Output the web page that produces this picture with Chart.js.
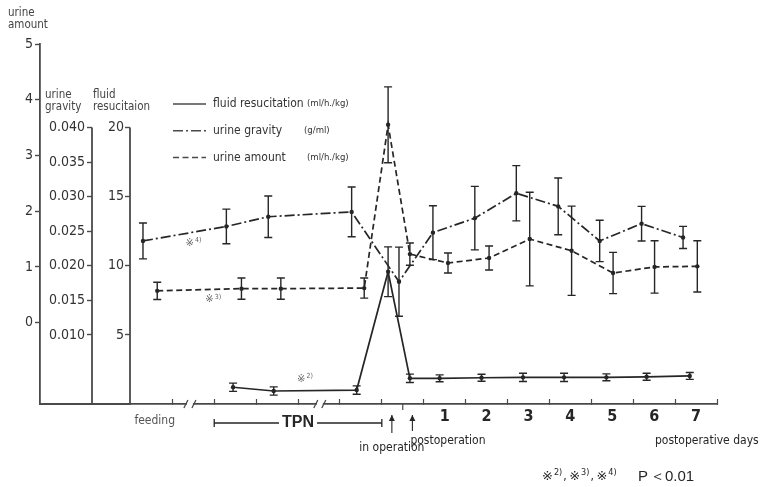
<!DOCTYPE html>
<html>
<head>
<meta charset="utf-8">
<script src="https://cdn.jsdelivr.net/npm/chart.js@4.4.1/dist/chart.umd.min.js"></script>
<style>
  html, body { margin: 0; padding: 0; background: #fff; }
</style>
</head>
<body>
<canvas id="chart" width="769" height="487"></canvas>
<script>
// values (x = position in days, 0 = operation)
const dayLabels = [1, 2, 3, 4, 5, 6, 7];
const xTickMarks = [-5.5, -4.5, -3.5, -2.5, -1.5, -0.5, 0.5, 1.5, 2.5, 3.5, 4.5, 5.5, 6.5, 7.5];
const amountTicks = [0, 1, 2, 3, 4, 5];
const gravityTicks = [0.010, 0.015, 0.020, 0.025, 0.030, 0.035, 0.040];
const fluidTicks = [5, 10, 15, 20];

// fluid resucitation (ml/h./kg)
const fluidX = [-4.05, -3.08, -1.10, -0.35, 0.17, 0.88, 1.88, 2.87, 3.85, 4.86, 5.82, 6.85];
const fluidMean = [1.21, 0.94, 1.01, 9.57, 1.86, 1.86, 1.90, 1.93, 1.93, 1.93, 1.97, 2.03];
const fluidSD = [0.3, 0.3, 0.3, 1.8, 0.3, 0.25, 0.25, 0.3, 0.3, 0.25, 0.25, 0.25];

// urine gravity (g/ml)
const gravityX = [-6.20, -4.21, -3.21, -1.22, -0.09, 0.72, 1.72, 2.71, 3.71, 4.70, 5.70, 6.69];
const gravityMean = [0.0236, 0.0257, 0.0271, 0.0278, 0.0177, 0.0248, 0.0269, 0.0305, 0.0286, 0.0236, 0.0261, 0.0241];
const gravitySD = [0.0026, 0.0025, 0.0030, 0.0036, 0.0050, 0.0039, 0.0046, 0.0040, 0.0041, 0.0030, 0.0025, 0.0016];

// urine amount (ml/h./kg)
const amountX = [-5.86, -3.85, -2.91, -0.92, -0.35, 0.17, 1.08, 2.06, 3.03, 4.03, 5.02, 6.01, 7.03];
const amountMean = [0.57, 0.61, 0.61, 0.62, 3.55, 1.23, 1.07, 1.16, 1.50, 1.29, 0.89, 1.00, 1.01];
const amountSD = [0.155, 0.19, 0.19, 0.18, 0.68, 0.2, 0.18, 0.215, 0.84, 0.8, 0.37, 0.47, 0.46];

const ink = "#262626";
const grey = "#4a4a4a";
const narrow = "'DejaVu Sans Condensed', 'Liberation Sans Narrow', sans-serif";
const DASH_DOT = [10, 3, 2, 3];
const DASHED = [6, 3.5];

function toPoints(xs, ys) {
  return xs.map((x, i) => ({ x: x, y: ys[i] }));
}

function series(label, xs, ys, sd, axisId, dash) {
  return {
    label: label,
    data: toPoints(xs, ys),
    sd: sd,
    yAxisID: axisId,
    borderColor: ink,
    borderWidth: 1.7,
    borderDash: dash,
    pointRadius: 2.2,
    pointBackgroundColor: ink,
    pointBorderWidth: 0,
    tension: 0,
  };
}

//Error bars from each dataset's sd array
const errorBars = {
  id: "errorBars",
  afterDatasetsDraw(chart) {
    const ctx = chart.ctx;
    chart.data.datasets.forEach((ds, i) => {
      const meta = chart.getDatasetMeta(i);
      const ys = chart.scales[ds.yAxisID];
      ctx.save();
      ctx.lineWidth = 1.4;
      ctx.strokeStyle = ink;
      ds.data.forEach((p, j) => {
        const px = meta.data[j].x;
        const top = ys.getPixelForValue(p.y + ds.sd[j]);
        const bot = ys.getPixelForValue(p.y - ds.sd[j]);
        ctx.beginPath();
        ctx.moveTo(px, top); ctx.lineTo(px, bot);
        ctx.moveTo(px - 4, top); ctx.lineTo(px + 4, top);
        ctx.moveTo(px - 4, bot); ctx.lineTo(px + 4, bot);
        ctx.stroke();
      });
      ctx.restore();
    });
  },
};

function mark(ctx, x, y, num, size) {
  ctx.font = size + "px 'DejaVu Sans', sans-serif";
  ctx.textAlign = "left";
  ctx.textBaseline = "middle";
  ctx.fillText("\u203B", x, y);
  const w = ctx.measureText("\u203B").width;
  ctx.font = Math.round(size * 0.7) + "px 'DejaVu Sans Condensed', sans-serif";
  ctx.fillText(num + ")", x + w + 1, y - size * 0.3);
  return x + w + 1 + ctx.measureText(num + ")").width;
}

//Everything around the plot: broken axis, phases, legend, titles
const decor = {
  id: "decor",
  afterDraw(chart) {
    const ctx = chart.ctx;
    const xs = chart.scales.x;
    const yA = chart.scales.yAmount;
    const yG = chart.scales.yGravity;
    const yF = chart.scales.yFluid;
    const base = xs.top;
    ctx.save();

    // x baseline continues under the inner axes
    ctx.strokeStyle = grey;
    ctx.lineWidth = 1.8;
    ctx.beginPath();
    ctx.moveTo(yA.right, base); ctx.lineTo(chart.chartArea.left + 1, base);
    ctx.stroke();

    // inner axis lines end at their top tick
    [[yG, gravityTicks], [yF, fluidTicks]].forEach(([s, t]) => {
      ctx.beginPath();
      ctx.moveTo(s.right, s.getPixelForValue(s.min));
      ctx.lineTo(s.right, s.getPixelForValue(t[t.length - 1]));
      ctx.stroke();
    });

    // axis breaks
    [-5.08, -1.98].forEach((v) => {
      const bx = xs.getPixelForValue(v);
      ctx.fillStyle = "#fff";
      ctx.fillRect(bx - 3, base - 2, 6, 4);
      ctx.lineWidth = 1.3;
      ctx.beginPath();
      ctx.moveTo(bx - 6, base + 4); ctx.lineTo(bx - 2, base - 4);
      ctx.moveTo(bx + 2, base + 4); ctx.lineTo(bx + 6, base - 4);
      ctx.stroke();
    });

    // operation tick points down
    const opx = xs.getPixelForValue(0);
    ctx.lineWidth = 1.2;
    ctx.beginPath();
    ctx.moveTo(opx, base); ctx.lineTo(opx, base + 6);
    ctx.stroke();

    // phases
    ctx.fillStyle = "#555";
    ctx.font = "12px " + narrow;
    ctx.textAlign = "center";
    ctx.textBaseline = "middle";
    ctx.fillText("feeding", xs.getPixelForValue(-5.92), 421);

    const t0 = xs.getPixelForValue(-4.5);
    const t1 = xs.getPixelForValue(-0.5);
    const tm = xs.getPixelForValue(-2.5);
    ctx.strokeStyle = ink;
    ctx.lineWidth = 1.3;
    ctx.beginPath();
    ctx.moveTo(t0, 423); ctx.lineTo(tm - 19, 423);
    ctx.moveTo(tm + 19, 423); ctx.lineTo(t1, 423);
    ctx.moveTo(t0, 419); ctx.lineTo(t0, 427);
    ctx.moveTo(t1, 419); ctx.lineTo(t1, 427);
    ctx.stroke();
    ctx.fillStyle = ink;
    ctx.font = "bold 16px 'Liberation Sans', Arial, sans-serif";
    ctx.fillText("TPN", tm, 423);

    const arrow = (v, y1, y2) => {
      const ax = xs.getPixelForValue(v);
      ctx.beginPath();
      ctx.moveTo(ax, y2); ctx.lineTo(ax, y1);
      ctx.stroke();
      ctx.beginPath();
      ctx.moveTo(ax, y1); ctx.lineTo(ax - 3, y1 + 6); ctx.lineTo(ax + 3, y1 + 6);
      ctx.closePath(); ctx.fill();
      return ax;
    };
    ctx.lineWidth = 1.1;
    const inOp = arrow(-0.26, 415, 433);
    const postOp = arrow(0.23, 415, 431);
    ctx.font = "12px " + narrow;
    ctx.fillText("in operation", inOp, 448);
    ctx.textAlign = "left";
    ctx.fillText("postoperation", postOp - 2, 441);
    ctx.fillText("postoperative days", 655, 441);

    // significance marks
    ctx.fillStyle = "#666";
    mark(ctx, xs.getPixelForValue(-5.04) - 6, yG.getPixelForValue(0.0233), 4, 10);
    mark(ctx, xs.getPixelForValue(-4.57) - 6, yA.getPixelForValue(0.41), 3, 10);
    mark(ctx, xs.getPixelForValue(-2.38) - 6, yF.getPixelForValue(1.79), 2, 10);

    ctx.fillStyle = ink;
    let fx = 542;
    fx = mark(ctx, fx, 477, 2, 13);
    ctx.font = "12px " + narrow; ctx.fillText(",", fx + 1, 477); fx += 7;
    fx = mark(ctx, fx, 477, 3, 13);
    ctx.font = "12px " + narrow; ctx.fillText(",", fx + 1, 477); fx += 7;
    fx = mark(ctx, fx, 477, 4, 13);
    ctx.font = "15px 'Liberation Sans', sans-serif";
    ctx.fillText("P", 638, 477);
    ctx.fillText("\uFF1C0.01", 650, 477);

    // legend
    const rows = [
      ["fluid resucitation", "(ml/h./kg)", []],
      ["urine gravity", "(g/ml)", DASH_DOT],
      ["urine amount", "(ml/h./kg)", DASHED],
    ];
    rows.forEach(([name, unit, dash], i) => {
      const ly = 104 + i * 26.8;
      ctx.strokeStyle = grey;
      ctx.lineWidth = 1.5;
      ctx.setLineDash(dash);
      ctx.beginPath();
      ctx.moveTo(173, ly); ctx.lineTo(206, ly);
      ctx.stroke();
      ctx.setLineDash([]);
      ctx.fillStyle = "#333";
      ctx.font = "12px " + narrow;
      ctx.fillText(name, 213, ly);
      ctx.font = "9.5px " + narrow;
      ctx.fillText(unit, i === 1 ? 304 : 307, ly);
    });

    // axis titles
    ctx.fillStyle = "#444";
    ctx.font = "11.5px " + narrow;
    ctx.fillText("urine", 8, 13);
    ctx.fillText("amount", 8, 25);
    ctx.fillText("urine", yG.left + 5, 95);
    ctx.fillText("gravity", yG.left + 5, 107);
    ctx.fillText("fluid", yF.left + 1, 95);
    ctx.fillText("resucitaion", yF.left + 1, 107);

    ctx.restore();
  },
};

const ctx = document.getElementById("chart").getContext("2d");
const allXTicks = xTickMarks.concat(dayLabels).sort((a, b) => a - b);

new Chart(ctx, {
  type: "line",
  data: {
    datasets: [
      series("fluid resucitation", fluidX, fluidMean, fluidSD, "yFluid", []),
      series("urine gravity", gravityX, gravityMean, gravitySD, "yGravity", DASH_DOT),
      series("urine amount", amountX, amountMean, amountSD, "yAmount", DASHED),
    ],
  },
  options: {
    responsive: false,
    animation: false,
    layout: { padding: { top: 44, right: 52, left: 0, bottom: 0 } },
    plugins: { legend: { display: false }, tooltip: { enabled: false } },
    scales: {
      x: {
        type: "linear",
        position: "bottom",
        min: -6.51,
        max: 7.5,
        afterBuildTicks: (s) => { s.ticks = allXTicks.map((v) => ({ value: v })); },
        afterFit: (s) => { s.height = 83; },
        border: { color: grey, width: 1.8 },
        grid: {
          drawOnChartArea: false,
          tickLength: -5,
          tickWidth: 1.2,
          tickColor: (c) => (c.tick && dayLabels.includes(c.tick.value) ? "rgba(0,0,0,0)" : grey),
        },
        ticks: {
          autoSkip: false,
          maxRotation: 0,
          padding: 8,
          color: ink,
          font: { family: "'Liberation Sans Narrow', 'DejaVu Sans Condensed', sans-serif", size: 16, weight: "bold" },
          callback: (v) => (dayLabels.includes(v) ? String(v) : ""),
        },
      },
      yAmount: {
        type: "linear",
        position: "left",
        weight: 3,
        min: -1.46,
        max: 5,
        afterBuildTicks: (s) => { s.ticks = amountTicks.map((v) => ({ value: v })); },
        afterFit: (s) => { s.width = 40; },
        border: { color: grey, width: 1.8 },
        grid: { drawOnChartArea: false, tickLength: 5, tickColor: grey, tickWidth: 1.4 },
        ticks: { padding: 2, color: "#333", font: { family: narrow, size: 14 }, callback: (v) => String(v) },
      },
      yGravity: {
        type: "linear",
        position: "left",
        weight: 2,
        min: 0,
        max: 0.0521,
        afterBuildTicks: (s) => { s.ticks = gravityTicks.map((v) => ({ value: v })); },
        afterFit: (s) => { s.width = 52; },
        border: { display: false },
        grid: { drawOnChartArea: false, tickLength: 5, tickColor: grey, tickWidth: 1.4 },
        ticks: { padding: 2, color: "#333", font: { family: narrow, size: 14 }, callback: (v) => v.toFixed(3) },
      },
      yFluid: {
        type: "linear",
        position: "left",
        weight: 1,
        min: 0,
        max: 26.05,
        afterBuildTicks: (s) => { s.ticks = fluidTicks.map((v) => ({ value: v })); },
        afterFit: (s) => { s.width = 38; },
        border: { display: false },
        grid: { drawOnChartArea: false, tickLength: 5, tickColor: grey, tickWidth: 1.4 },
        ticks: { padding: 1, color: "#333", font: { family: narrow, size: 14 }, callback: (v) => String(v) },
      },
    },
  },
  plugins: [errorBars, decor],
});
</script>
</body>
</html>
